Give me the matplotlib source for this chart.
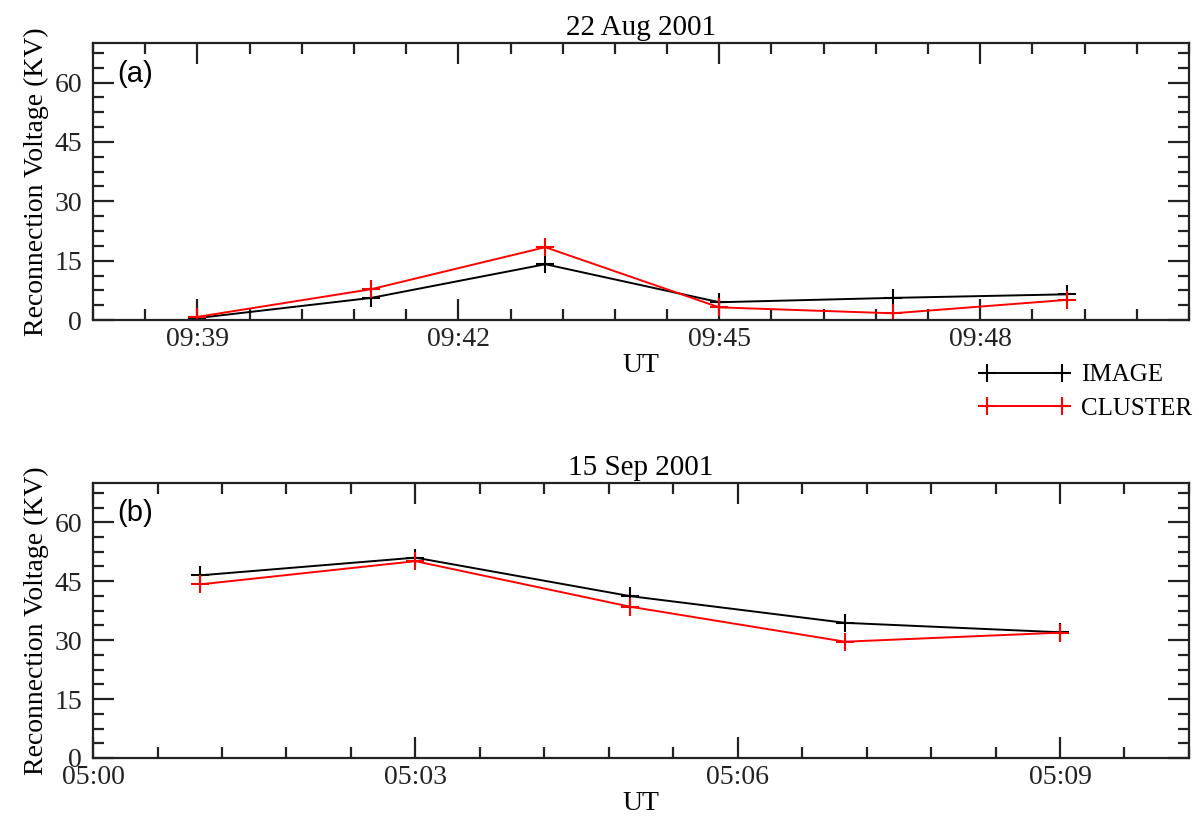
import matplotlib
matplotlib.use("Agg")
import matplotlib.pyplot as plt
from matplotlib.ticker import MultipleLocator, FuncFormatter

# 22 Aug 2001 event (UT, HH:MM)
times_a = ["09:39", "09:41", "09:43", "09:45", "09:47", "09:49"]
image_a = [0.5, 5.6, 14.1, 4.5, 5.6, 6.5]
cluster_a = [0.8, 7.8, 18.4, 3.2, 1.7, 5.1]

# 15 Sep 2001 event
times_b = ["05:01", "05:03", "05:05", "05:07", "05:09"]
image_b = [46.5, 51.0, 41.2, 34.4, 32.0]
cluster_b = [44.2, 50.1, 38.5, 29.6, 31.9]

yticks = [0, 15, 30, 45, 60]


def to_min(t):
    h, m = t.split(":")
    return int(h) * 60 + int(m)


def hhmm(x, pos):
    x = int(round(x))
    return "%02d:%02d" % (x // 60, x % 60)


plt.rcParams['font.family'] = ['Liberation Serif', 'DejaVu Serif']
plt.rcParams['font.size'] = 20

fig = plt.figure(figsize=(11.99, 8.16), dpi=100)
ax1 = fig.add_axes([0.0776, 0.6078, 0.914, 0.3395])
ax2 = fig.add_axes([0.0776, 0.0711, 0.914, 0.3370])


def style(ax, xlim, title, tag):
    ax.set_xlim(*xlim)
    ax.set_ylim(0, 70)
    ax.set_yticks(yticks)
    ax.yaxis.set_minor_locator(MultipleLocator(3.75))
    ax.xaxis.set_major_locator(MultipleLocator(3))
    ax.xaxis.set_minor_locator(MultipleLocator(0.6))
    ax.xaxis.set_major_formatter(FuncFormatter(hhmm))
    ax.tick_params(which='both', direction='in', top=True, right=True,
                   width=1.6, colors='#222222', labelsize=20)
    ax.tick_params(which='major', length=15)
    ax.tick_params(which='minor', length=8)
    ax.tick_params(axis='y', pad=8)
    ax.tick_params(axis='x', pad=5)
    for s in ax.spines.values():
        s.set_linewidth(1.6)
        s.set_color('#222222')
    ax.set_xlabel("UT", labelpad=1)
    ax.set_ylabel("Reconnection Voltage (KV)", labelpad=4)
    ax.set_title(title, pad=6, fontsize=21)
    ax.text(0.022, 0.86, tag, transform=ax.transAxes, fontsize=21,
            family=['Liberation Sans', 'DejaVu Sans'])


xa = [to_min(t) for t in times_a]
xb = [to_min(t) for t in times_b]

mk = dict(marker='+', markersize=13, markeredgewidth=1.5, linewidth=1.4)
ax1.plot(xa, image_a, color='black', label='IMAGE', **mk)
ax1.plot(xa, cluster_a, color='red', label='CLUSTER', **mk)
style(ax1, (to_min("09:39") - 1.2, to_min("09:48") + 2.4), "22 Aug 2001", "(a)")

ax2.plot(xb, image_b, color='black', **mk)
ax2.plot(xb, cluster_b, color='red', **mk)
style(ax2, (to_min("05:00"), to_min("05:09") + 1.2), "15 Sep 2001", "(b)")

ax1.legend(loc='upper right', bbox_to_anchor=(1.003, -0.158), frameon=False,
           numpoints=2, handlelength=3.6, handletextpad=0.45,
           labelspacing=0.45, fontsize=18, borderaxespad=0, borderpad=0)

fig.savefig("out.png", dpi=100)
